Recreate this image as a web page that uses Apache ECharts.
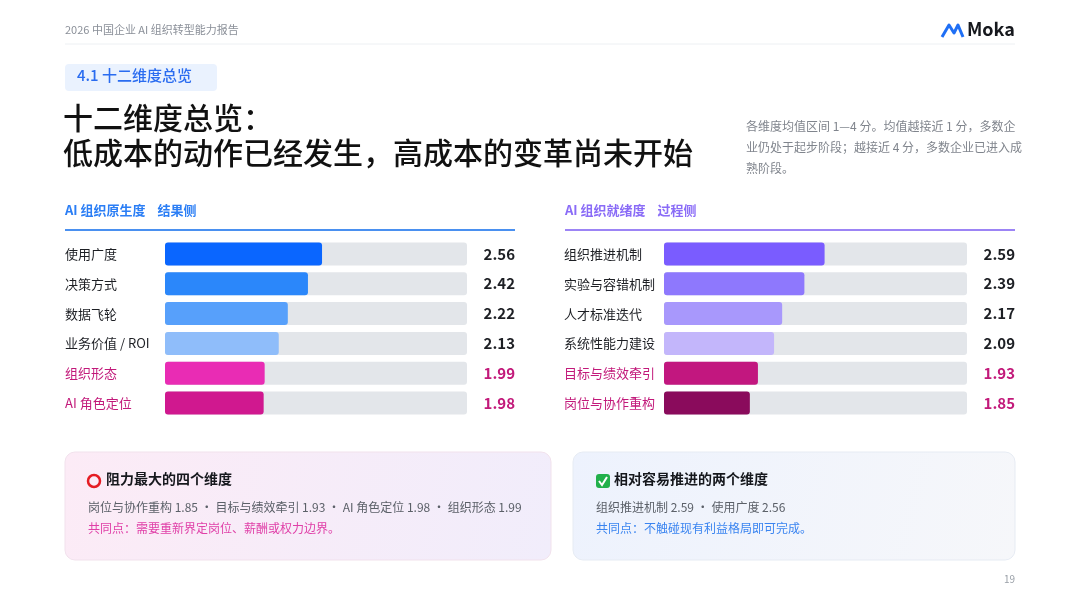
<!DOCTYPE html>
<html><head><meta charset="utf-8">
<script src="https://cdn.jsdelivr.net/npm/echarts@6/dist/echarts.min.js"></script>
<style>html,body{margin:0;padding:0;background:#fff}#c{width:1080px;height:607px}</style>
</head><body><div id="c"></div>
<script>
const leftCats = ['使用广度','决策方式','数据飞轮','业务价值 / ROI','组织形态','AI 角色定位'];
const leftVals = [2.56,2.42,2.22,2.13,1.99,1.98];
const rightCats = ['组织推进机制','实验与容错机制','人才标准迭代','系统性能力建设','目标与绩效牵引','岗位与协作重构'];
const rightVals = [2.59,2.39,2.17,2.09,1.93,1.85];
const leftColors = ['#0a66ff','#2b87fa','#57a0fb','#8fbdfa','#e92cb4','#d0188f'];
const rightColors = ['#7a5cff','#8e78fd','#a898fc','#c3b6fb','#c2177f','#8a0b5c'];
const highlight = [false,false,false,false,true,true];
const F = '"Noto Sans CJK SC","Noto Sans",sans-serif';
const chart = echarts.init(document.getElementById('c'));
function txtColor(i){return highlight[i]?'#c2197a':'#1d1f24';}
function yCat(gi,cats){return {type:'category',data:cats,inverse:true,axisLine:{show:false},axisTick:{show:false},
  axisLabel:{margin:100,align:'left',fontFamily:F,fontSize:13,color:(v,i)=>txtColor(i)}};}
function yVal(gi,vals){return {type:'category',position:'right',data:vals.map(v=>v.toFixed(2)),inverse:true,axisLine:{show:false},axisTick:{show:false},
  axisLabel:{margin:48,align:'right',fontFamily:F,fontSize:15,fontWeight:'bold',color:(v,i)=>txtColor(i)}};}
function xAx(gi){return {type:'value',gridIndex:gi,min:1,max:4,show:false};}
function bars(gi,vals,colors){return {type:'bar',xAxisIndex:gi,yAxisIndex:gi*2,barWidth:23,
  showBackground:true,backgroundStyle:{color:'#e3e6ea',borderRadius:3},
  data:vals.map((v,i)=>({value:v,itemStyle:{color:colors[i],borderRadius:3}}))};}
chart.setOption({
  animation:false,
  grid:[{left:165,width:302,top:239,height:179},{left:664,width:303,top:239,height:179}],
  xAxis:[xAx(0),xAx(1)],
  yAxis:[yCat(0,leftCats),yVal(0,leftVals),yCat(1,rightCats),yVal(1,rightVals)].map((a,i)=>Object.assign(a,{gridIndex:i<2?0:1})),
  series:[bars(0,leftVals,leftColors),bars(1,rightVals,rightColors)],
  graphic:[
    {type:'text',left:65,top:24,style:{text:'2026 中国企业 AI 组织转型能力报告',font:'11px '+F,fill:'#8a8f98'}},
    {type:'line',shape:{x1:65,y1:44,x2:1015,y2:44},style:{stroke:'#edf0f3',lineWidth:1}},
    {type:'polyline',shape:{points:[[942,37],[949,25],[954,33],[958,25],[963,37]]},style:{stroke:'#1f6ff5',lineWidth:3,fill:null,lineJoin:'round'}},
    {type:'text',left:967,top:20,style:{text:'Moka',font:'bold 18px '+F,fill:'#16181d'}},
    {type:'rect',shape:{x:65,y:64,width:152,height:27,r:4},style:{fill:'#eaf2fe'}},
    {type:'text',left:77,top:68,style:{text:'4.1 十二维度总览',font:'500 15px '+F,fill:'#2a6cf0'}},
    {type:'text',left:63,top:103,style:{text:'十二维度总览：',font:'500 30px '+F,fill:'#111'}},
    {type:'text',left:63,top:138,style:{text:'低成本的动作已经发生，高成本的变革尚未开始',font:'500 30px '+F,fill:'#111'}},
    {type:'text',left:746,top:116,style:{text:'各维度均值区间 1—4 分。均值越接近 1 分，多数企\n业仍处于起步阶段；越接近 4 分，多数企业已进入成\n熟阶段。',font:'12px '+F,fill:'#80858d',lineHeight:21}},
    {type:'text',left:65,top:204,style:{text:'AI 组织原生度    结果侧',font:'bold 13px '+F,fill:'#2b7ef5'}},
    {type:'line',shape:{x1:65,y1:230,x2:515,y2:230},style:{stroke:'#4a90f0',lineWidth:2}},
    {type:'text',left:565,top:204,style:{text:'AI 组织就绪度    过程侧',font:'bold 13px '+F,fill:'#8a6cf7'}},
    {type:'line',shape:{x1:565,y1:230,x2:1015,y2:230},style:{stroke:'#9c84f5',lineWidth:2}},
    {type:'rect',shape:{x:65,y:452,width:486,height:108,r:10},style:{fill:new echarts.graphic.LinearGradient(0,0,1,1,[{offset:0,color:'#fcebf6'},{offset:1,color:'#f1edfb'}]),stroke:'#f1e1ec',lineWidth:1}},
    {type:'rect',shape:{x:573,y:452,width:442,height:108,r:10},style:{fill:new echarts.graphic.LinearGradient(0,0,1,1,[{offset:0,color:'#edf2fd'},{offset:1,color:'#f6f7fa'}]),stroke:'#e6ebf3',lineWidth:1}},
    {type:'circle',shape:{cx:94,cy:481,r:6},style:{fill:null,stroke:'#e51c23',lineWidth:2.5}},
    {type:'text',left:106,top:472,style:{text:'阻力最大的四个维度',font:'bold 14px '+F,fill:'#16181d'}},
    {type:'text',left:88,top:501,style:{text:'岗位与协作重构 1.85 · 目标与绩效牵引 1.93 · AI 角色定位 1.98 · 组织形态 1.99',font:'12px '+F,fill:'#5b6068'}},
    {type:'text',left:88,top:522,style:{text:'共同点：需要重新界定岗位、薪酬或权力边界。',font:'12px '+F,fill:'#e040a8'}},
    {type:'rect',shape:{x:596,y:474,width:14,height:14,r:3},style:{fill:'#22b04b'}},
    {type:'polyline',shape:{points:[[599,481],[602,485],[607,477]]},style:{stroke:'#fff',lineWidth:2,fill:null}},
    {type:'text',left:614,top:472,style:{text:'相对容易推进的两个维度',font:'bold 14px '+F,fill:'#16181d'}},
    {type:'text',left:596,top:501,style:{text:'组织推进机制 2.59 · 使用广度 2.56',font:'12px '+F,fill:'#5b6068'}},
    {type:'text',left:596,top:522,style:{text:'共同点：不触碰现有利益格局即可完成。',font:'12px '+F,fill:'#3a84f0'}},
    {type:'text',right:65,top:574,style:{text:'19',font:'10px '+F,fill:'#9aa0a8'}}
  ]
});
</script></body></html>
